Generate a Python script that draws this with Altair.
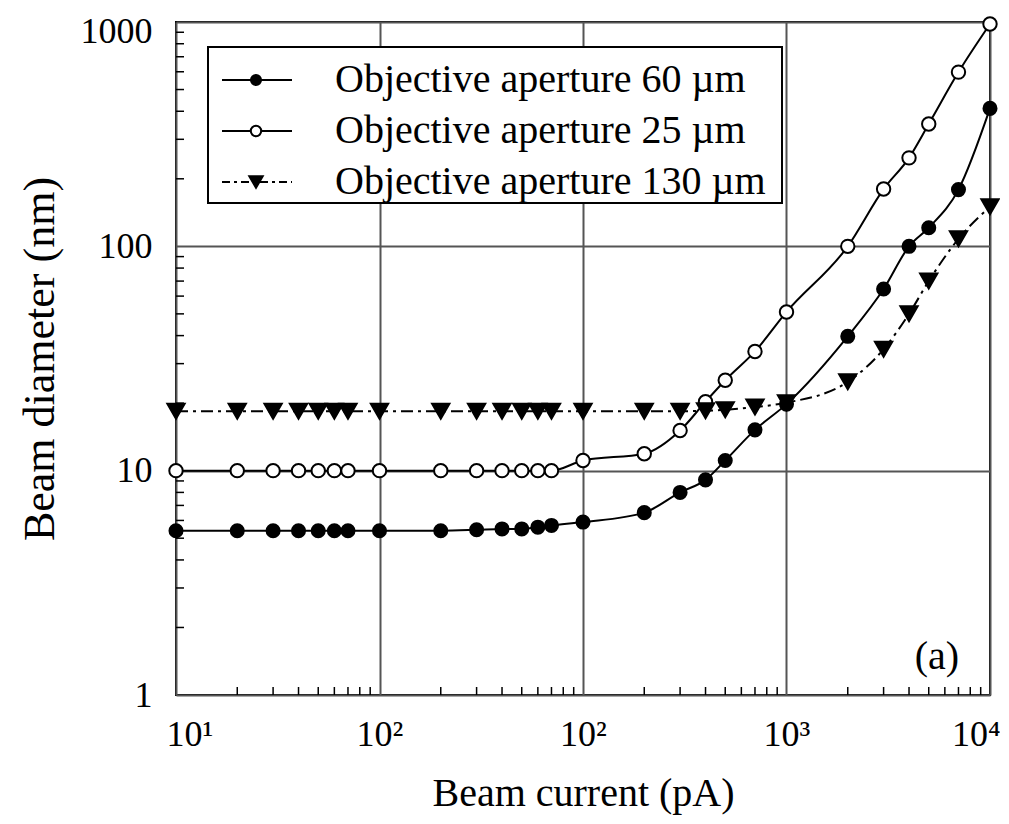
import json
import altair as alt
import pandas as pd

# ---------------- data ----------------
x_pA = [1, 2, 3, 4, 5, 6, 7, 10, 20, 30, 40, 50, 60, 70, 100,
        200, 300, 400, 500, 700, 1000, 2000, 3000, 4000, 5000, 7000, 10000]
d_60um = [5.4, 5.4, 5.4, 5.4, 5.4, 5.4, 5.4, 5.4, 5.4, 5.45, 5.5, 5.5, 5.6, 5.7, 5.9,
          6.5, 8.0, 9.1, 11.1, 15.2, 19.8, 39.7, 64.5, 100, 121, 179, 412]
d_25um = [10, 10, 10, 10, 10, 10, 10, 10, 10, 10, 10, 10, 10, 10, 11.1,
          11.9, 15.1, 20.3, 25.3, 34, 51, 100, 180, 248, 351, 598, 980]
d_130um = [18.4, 18.4, 18.4, 18.4, 18.4, 18.4, 18.4, 18.4, 18.4, 18.4, 18.4, 18.4, 18.4, 18.4, 18.4,
           18.4, 18.4, 18.5, 18.7, 19.2, 20.1, 24.9, 34.8, 50, 70, 108, 150]
series_labels = ["Objective aperture 60 \u00b5m",
                 "Objective aperture 25 \u00b5m",
                 "Objective aperture 130 \u00b5m"]
x_major = [1, 10, 100, 1000, 10000]
x_tick_labels = ["10\u00b9", "10\u00b2", "10\u00b2", "10\u00b3", "10\u2074"]
y_major = [1, 10, 100, 1000]
x_minor = [2, 3, 4, 5, 6, 7, 8, 9, 20, 30, 40, 50, 60, 70, 80, 90,
           200, 300, 400, 500, 600, 700, 800, 900,
           2000, 3000, 4000, 5000, 6000, 7000, 8000, 9000]
y_minor = [2, 3, 4, 5, 6, 7, 8, 9, 20, 30, 40, 50, 60, 70, 80, 90,
           200, 300, 400, 500, 600, 700, 800, 900]
x_title = "Beam current (pA)"
y_title = "Beam diameter (nm)"
panel_label = "(a)"

# ---------------- styling ----------------
W, H = 814, 673
FONT = "Liberation Serif"
styles = [
    dict(shape="circle", fill="black", size=170, dash=None),
    dict(shape="circle", fill="white", size=180, dash=None),
    dict(shape="triangle-down", fill="black", size=300, dash=[12, 5, 3, 5]),
]
legend_dash = [None, None, [8, 4, 3, 4]]

xscale = alt.Scale(type="log", domain=[1, 10000], nice=False)
yscale = alt.Scale(type="log", domain=[1, 1000], nice=False)

label_expr = json.dumps(x_tick_labels, ensure_ascii=False) + "[round(log(datum.value)/LN10)]"

x_axis = alt.Axis(values=x_major, labelExpr=label_expr, grid=True, gridColor="#555555",
                  gridWidth=2, ticks=False, tickSize=0, domain=False,
                  labelFont=FONT, labelFontSize=36, labelColor="black", labelPadding=22,
                  labelFlush=True, labelFlushOffset=10,
                  title=x_title, titleFont=FONT, titleFontSize=40, titleFontWeight="normal",
                  titleColor="black", titlePadding=21)
y_axis = alt.Axis(values=y_major, format="d", grid=True, gridColor="#555555",
                  gridWidth=2, ticks=False, tickSize=0, domain=False,
                  labelFont=FONT, labelFontSize=36, labelColor="black", labelPadding=24,
                  labelOffset={"condition": {"test": "datum.value >= 1000", "value": 9}, "value": 0},
                  title=y_title, titleFont=FONT, titleFontSize=44, titleFontWeight="normal",
                  titleColor="black", titlePadding=18)

X = lambda f: alt.X(f, scale=xscale, axis=x_axis)
Y = lambda f: alt.Y(f, scale=yscale, axis=y_axis)

series_data = [d_60um, d_25um, d_130um]
layers = []
for i, (label, vals) in enumerate(zip(series_labels, series_data)):
    st = styles[i]
    sub = pd.DataFrame({"x": x_pA, "y": vals, "series": label})
    line_kw = dict(color="black", strokeWidth=2, interpolate="monotone")
    if st["dash"]:
        line_kw["strokeDash"] = st["dash"]
    line = alt.Chart(sub).mark_line(**line_kw).encode(x=X("x:Q"), y=Y("y:Q"))
    pts = alt.Chart(sub).mark_point(shape=st["shape"], filled=True, fill=st["fill"],
                                    stroke="black", strokeWidth=2, size=st["size"],
                                    opacity=1).encode(x=X("x:Q"), y=Y("y:Q"))
    layers += [line, pts]

# inward minor ticks
xt = alt.Chart(pd.DataFrame({"x": x_minor})).mark_rule(color="black", strokeWidth=1.5).encode(
    x=X("x:Q"), y=alt.value(H), y2=alt.value(H - 8))
yt = alt.Chart(pd.DataFrame({"y": y_minor})).mark_rule(color="black", strokeWidth=1.5).encode(
    y=Y("y:Q"), x=alt.value(0), x2=alt.value(8))
layers += [xt, yt]

# legend box
one = pd.DataFrame({"a": [0]})
box = alt.Chart(one).mark_rect(fill="white", stroke="black", strokeWidth=2).encode(
    x=alt.value(32), x2=alt.value(606), y=alt.value(25), y2=alt.value(181))
layers.append(box)
row_y = [58, 109, 160]
for i, label in enumerate(series_labels):
    st = styles[i]
    rk = dict(color="black", strokeWidth=2)
    if legend_dash[i]:
        rk["strokeDash"] = legend_dash[i]
    seg = alt.Chart(one).mark_rule(**rk).encode(
        x=alt.value(46), x2=alt.value(116), y=alt.value(row_y[i]))
    sym = alt.Chart(one).mark_point(shape=st["shape"], filled=True, fill=st["fill"],
                                    stroke="black", strokeWidth=2,
                                    size=st["size"] * 0.6, opacity=1).encode(
        x=alt.value(80), y=alt.value(row_y[i]))
    txt = alt.Chart(pd.DataFrame({"label": [label]})).mark_text(
        align="left", baseline="middle", font=FONT, fontSize=40, color="black").encode(
        x=alt.value(159), y=alt.value(row_y[i]), text="label:N")
    layers += [seg, sym, txt]

tag = alt.Chart(pd.DataFrame({"t": [panel_label]})).mark_text(
    align="center", baseline="middle", font=FONT, fontSize=40, color="black").encode(
    x=alt.value(761), y=alt.value(635), text="t:N")
layers.append(tag)

chart = alt.layer(*layers).properties(
    width=W, height=H,
    autosize=alt.AutoSizeParams(type="none"),
    padding={"left": 168, "top": 14, "right": 10, "bottom": 120},
).configure_view(stroke="black", strokeWidth=2)

chart.save("out.html", embed_options={"renderer": "svg", "actions": False})
